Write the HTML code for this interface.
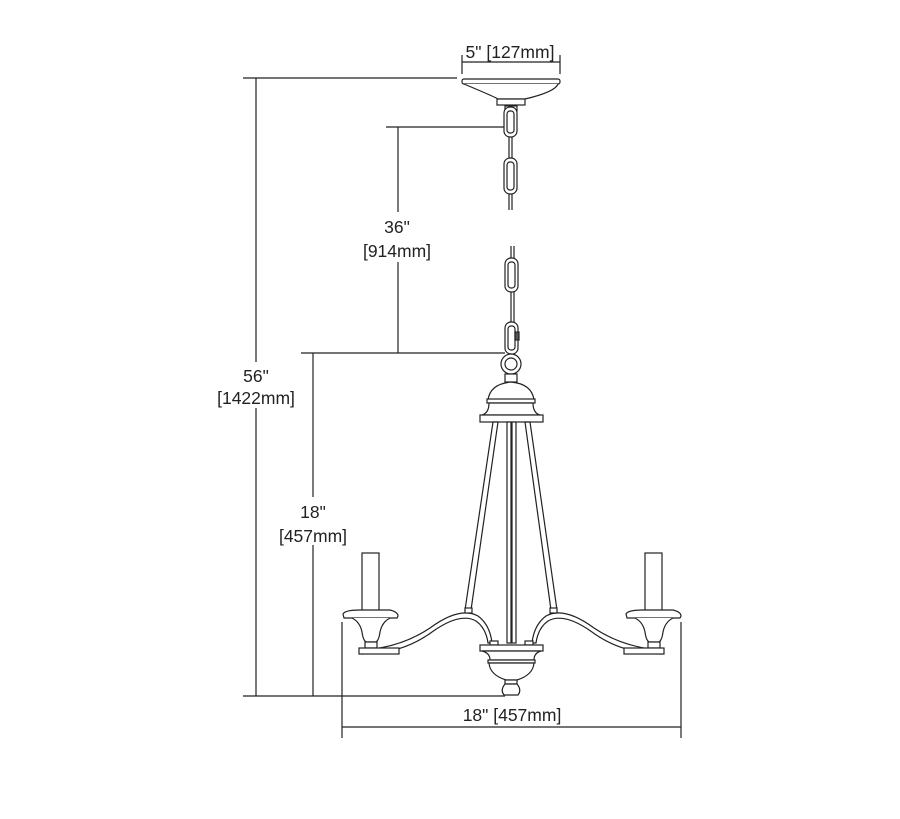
<!DOCTYPE html>
<html><head><style>
html,body{margin:0;padding:0;background:#fff;width:900px;height:819px;overflow:hidden}
svg{display:block}
text{font-family:"Liberation Sans",Arial,sans-serif;font-size:17.5px;fill:#222;text-anchor:middle}
</style></head><body>
<svg width="900" height="819" viewBox="0 0 900 819" xmlns="http://www.w3.org/2000/svg">
<g stroke="#222" stroke-width="1.2" fill="none">
<line x1="243" y1="78" x2="457" y2="78"/>
<line x1="256" y1="78" x2="256" y2="362"/>
<line x1="256" y1="408" x2="256" y2="696"/>
<line x1="386" y1="127" x2="505" y2="127"/>
<line x1="398" y1="127" x2="398" y2="212"/>
<line x1="398" y1="262" x2="398" y2="353"/>
<line x1="301" y1="353" x2="505" y2="353"/>
<line x1="313" y1="353" x2="313" y2="497"/>
<line x1="313" y1="545" x2="313" y2="696"/>
<line x1="243" y1="696" x2="505" y2="696"/>
<line x1="342" y1="622" x2="342" y2="738"/>
<line x1="681" y1="622" x2="681" y2="738"/>
<line x1="342" y1="727" x2="681" y2="727"/>
<line x1="462" y1="62" x2="560" y2="62"/>
<line x1="462" y1="55" x2="462" y2="74"/>
<line x1="560" y1="55" x2="560" y2="74"/>
</g>
<g stroke="#222" stroke-width="1.2" fill="#fff">
<rect x="462" y="79" width="98" height="5" rx="2"/>
<path d="M464 84 Q495 97 498 99 L525 99 Q555 92 558 84"/>
<rect x="497" y="99" width="28" height="6"/>
<rect x="505" y="106" width="12" height="5"/>
<rect x="504" y="107" width="13" height="30" rx="6"/>
<rect x="507" y="111" width="7" height="22" rx="3"/>
<line x1="509" y1="137" x2="509" y2="158"/><line x1="512" y1="137" x2="512" y2="158"/>
<rect x="504" y="158" width="13" height="36" rx="6"/>
<rect x="507" y="162" width="7" height="28" rx="3"/>
<line x1="509" y1="194" x2="509" y2="210"/><line x1="512" y1="194" x2="512" y2="210"/>
<line x1="511" y1="246" x2="511" y2="258"/><line x1="514" y1="246" x2="514" y2="258"/>
<rect x="505" y="258" width="13" height="34" rx="6"/>
<rect x="508" y="262" width="7" height="26" rx="3"/>
<line x1="511" y1="292" x2="511" y2="322"/><line x1="514" y1="292" x2="514" y2="322"/>
<rect x="505" y="322" width="13" height="32" rx="6"/>
<rect x="508" y="326" width="7" height="24" rx="3"/>
<rect x="515" y="332" width="4" height="8" fill="#555"/>
<circle cx="511" cy="364" r="10"/>
<circle cx="511" cy="364" r="6"/>
<rect x="505" y="374" width="12" height="8"/>
<path d="M488 400 Q490 384 511 382 Q532 384 534 400 Z"/>
<rect x="487" y="399" width="48" height="4"/>
<path d="M489 403 Q489 413 482 415 L540 415 Q533 413 533 403 Z"/>
<rect x="480" y="415" width="63" height="7"/>
<path d="M493 422 L498 422 L471 610 L465 610 Z"/>
<path d="M525 422 L530 422 L557 610 L551 610 Z"/>
<rect x="507" y="422" width="4" height="221"/>
<rect x="512" y="422" width="4" height="221"/>
<path d="M362 650 Q400 648 430 628 Q460 606 478 616 Q490 625 492 643 L488 643 Q486 628 476 621 Q460 612 432 632 Q402 654 362 654 Z"/>
<path d="M662 650 Q624 648 594 628 Q564 606 546 616 Q534 625 532 643 L536 643 Q538 628 548 621 Q564 612 592 632 Q622 654 662 654 Z"/>
<rect x="465" y="608" width="7" height="5"/>
<rect x="550" y="608" width="7" height="5"/>
<rect x="362" y="553" width="17" height="61"/>
<path d="M343 614 Q345 610 360 610 L390 610 Q398 612 398 616 L397 618 L344 618 Z"/>
<path d="M352 618 Q360 622 362 632 Q363 640 366 642 L376 642 Q379 640 380 632 Q382 622 390 618"/>
<rect x="365" y="642" width="12" height="6"/>
<rect x="359" y="648" width="40" height="6"/>
<rect x="645" y="553" width="17" height="61"/>
<path d="M626 614 Q628 610 643 610 L673 610 Q681 612 681 616 L680 618 L627 618 Z"/>
<path d="M635 618 Q643 622 645 632 Q646 640 649 642 L659 642 Q662 640 663 632 Q665 622 673 618"/>
<rect x="648" y="642" width="12" height="6"/>
<rect x="624" y="648" width="40" height="6"/>
<rect x="490" y="641" width="8" height="4"/><rect x="525" y="641" width="8" height="4"/>
<rect x="480" y="645" width="63" height="6"/>
<path d="M482 651 Q490 653 490 660 L534 660 Q534 653 541 651 Z"/>
<rect x="488" y="660" width="47" height="3"/>
<path d="M489 663 Q490 675 506 680 L517 680 Q533 675 534 663 Z"/>
<rect x="505" y="680" width="12" height="4"/>
<path d="M505 684 Q500 690 504 695 L518 695 Q522 690 517 684 Z"/>
</g>
<text x="510" y="58">5" [127mm]</text>
<text x="397" y="233">36"</text>
<text x="397" y="257">[914mm]</text>
<text x="256" y="382">56"</text>
<text x="256" y="404">[1422mm]</text>
<text x="313" y="518">18"</text>
<text x="313" y="542">[457mm]</text>
<text x="512" y="721">18" [457mm]</text>
</svg>
</body></html>
